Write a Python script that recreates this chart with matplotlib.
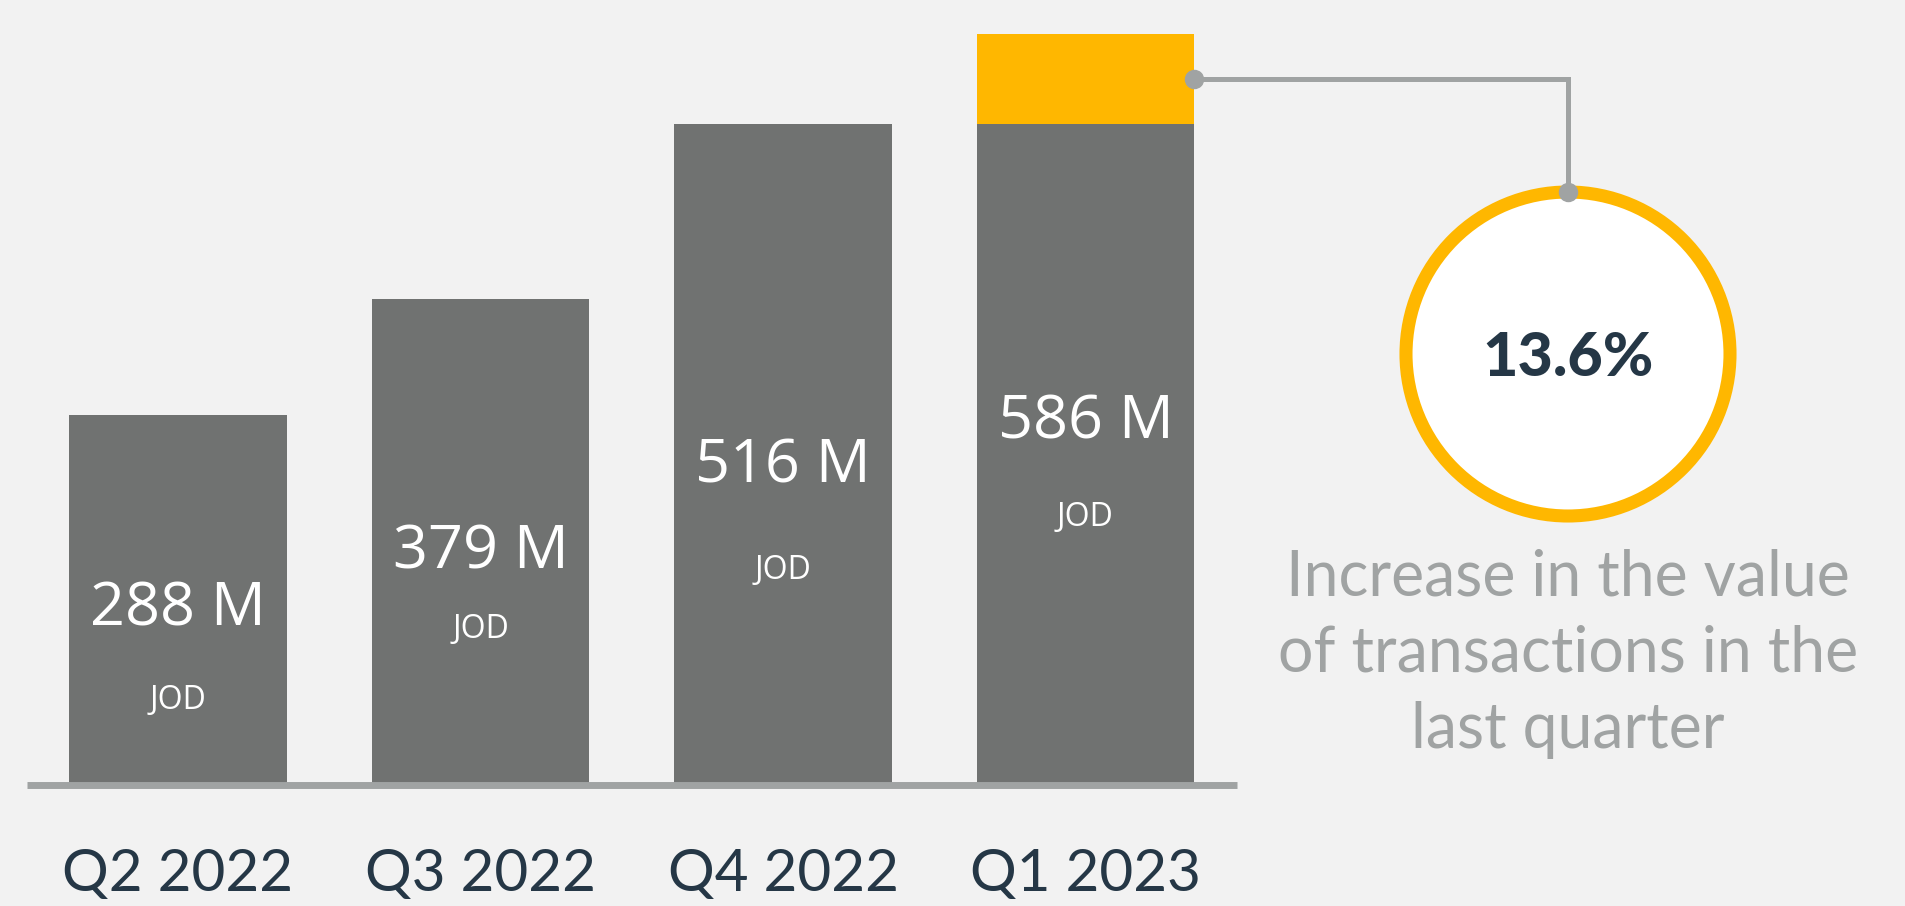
import matplotlib
matplotlib.use("Agg")
import matplotlib.pyplot as plt
from matplotlib.patches import Circle

# data
quarters = ["Q2 2022", "Q3 2022", "Q4 2022", "Q1 2023"]
values = [288, 379, 516, 586]          # million JOD
value_labels = ["288 M", "379 M", "516 M", "586 M"]
unit_label = "JOD"
growth_label = "13.6%"
growth_text = ["Increase in the value", "of transactions in the", "last quarter"]

# colours
bg = "#f2f2f2"
bar_grey = "#707271"
yellow = "#ffb700"
line_grey = "#a0a3a3"
navy = "#253746"

W, H = 1906, 906
base = 783      # pixel row of the bar bottoms (from top)
k = 1.278       # pixels per million JOD
fig = plt.figure(figsize=(W / 100, H / 100), dpi=100, facecolor=bg)

# main bar axes, bottom edge sits on the baseline
ax = fig.add_axes([0, (H - base) / H, 1, base / H])
ax.set_facecolor(bg)
ax.set_xlim(-178 / 302.5, (W - 178) / 302.5)
ax.set_ylim(0, base / k)

x = list(range(len(values)))
bw = 0.72
last = len(values) - 1

# last bar: previous quarter's level in grey, the rise on top in yellow
grey_heights = values[:-1] + [values[-2]]
ax.bar(x, grey_heights, width=bw, color=bar_grey, zorder=2)
ax.bar([last], [values[-1] - values[-2]], bottom=[values[-2]], width=bw,
       color=yellow, zorder=2)

# value labels + unit
jod_drop = [95, 81, 108, 98]  # px below the value label centre
for i, v in enumerate(values):
    ax.annotate(value_labels[i], xy=(i, v * 0.49), xytext=(0, -16.5),
                textcoords="offset points", ha="center", va="baseline",
                color="white", fontsize=44, family="Open Sans", zorder=3,
                annotation_clip=False)
    ax.annotate(unit_label, xy=(i, v * 0.49),
                xytext=(0, -(jod_drop[i] + 11.5) * 0.72),
                textcoords="offset points", ha="center", va="baseline",
                color="white", fontsize=23, family="Open Sans", zorder=3,
                annotation_clip=False)

# baseline as the bottom spine
for s in ["top", "right", "left"]:
    ax.spines[s].set_visible(False)
sp = ax.spines["bottom"]
sp.set_position(("outward", 1.5))
sp.set_bounds(-0.5, len(values) - 0.5)
sp.set_color(line_grey)
sp.set_linewidth(5)
sp.set_capstyle("butt")
sp.set_zorder(4)
ax.set_yticks([])
ax.set_xticks(x)
ax.set_xticklabels(quarters, fontsize=42, family="Lato", color=navy)
ax.tick_params(axis="x", length=0, pad=45)

# overlay in pixel units for the callout
ov = fig.add_axes([0, 0, 1, 1], zorder=5)
ov.set_xlim(0, W)
ov.set_ylim(H, 0)
ov.axis("off")
ov.patch.set_visible(False)

cx, cy, r = 1568, 354, 162
ov.add_patch(Circle((cx, cy), r, facecolor="white", edgecolor=yellow,
                    linewidth=9.4, zorder=1))

# connector from the yellow segment to the circle
p = ax.transData.transform((last + bw / 2, (values[-2] + values[-1]) / 2))
sx, sy = ov.transData.inverted().transform(p)
ov.plot([sx, cx, cx], [sy, sy, cy - r], color=line_grey, lw=3.6,
        solid_joinstyle="miter", zorder=2)
ov.plot([sx, cx], [sy, cy - r], "o", color=line_grey, markersize=13, zorder=3)

ov.text(cx, 376, growth_label, ha="center", va="baseline", fontsize=44,
        fontweight="black", family="Lato", color=navy, zorder=4)

for j, line in enumerate(growth_text):
    ov.text(cx, 595 + 76.5 * j, line, ha="center", va="baseline",
            fontsize=45, family="Lato", color=line_grey)

fig.savefig("out.png", dpi=100, facecolor=bg)
